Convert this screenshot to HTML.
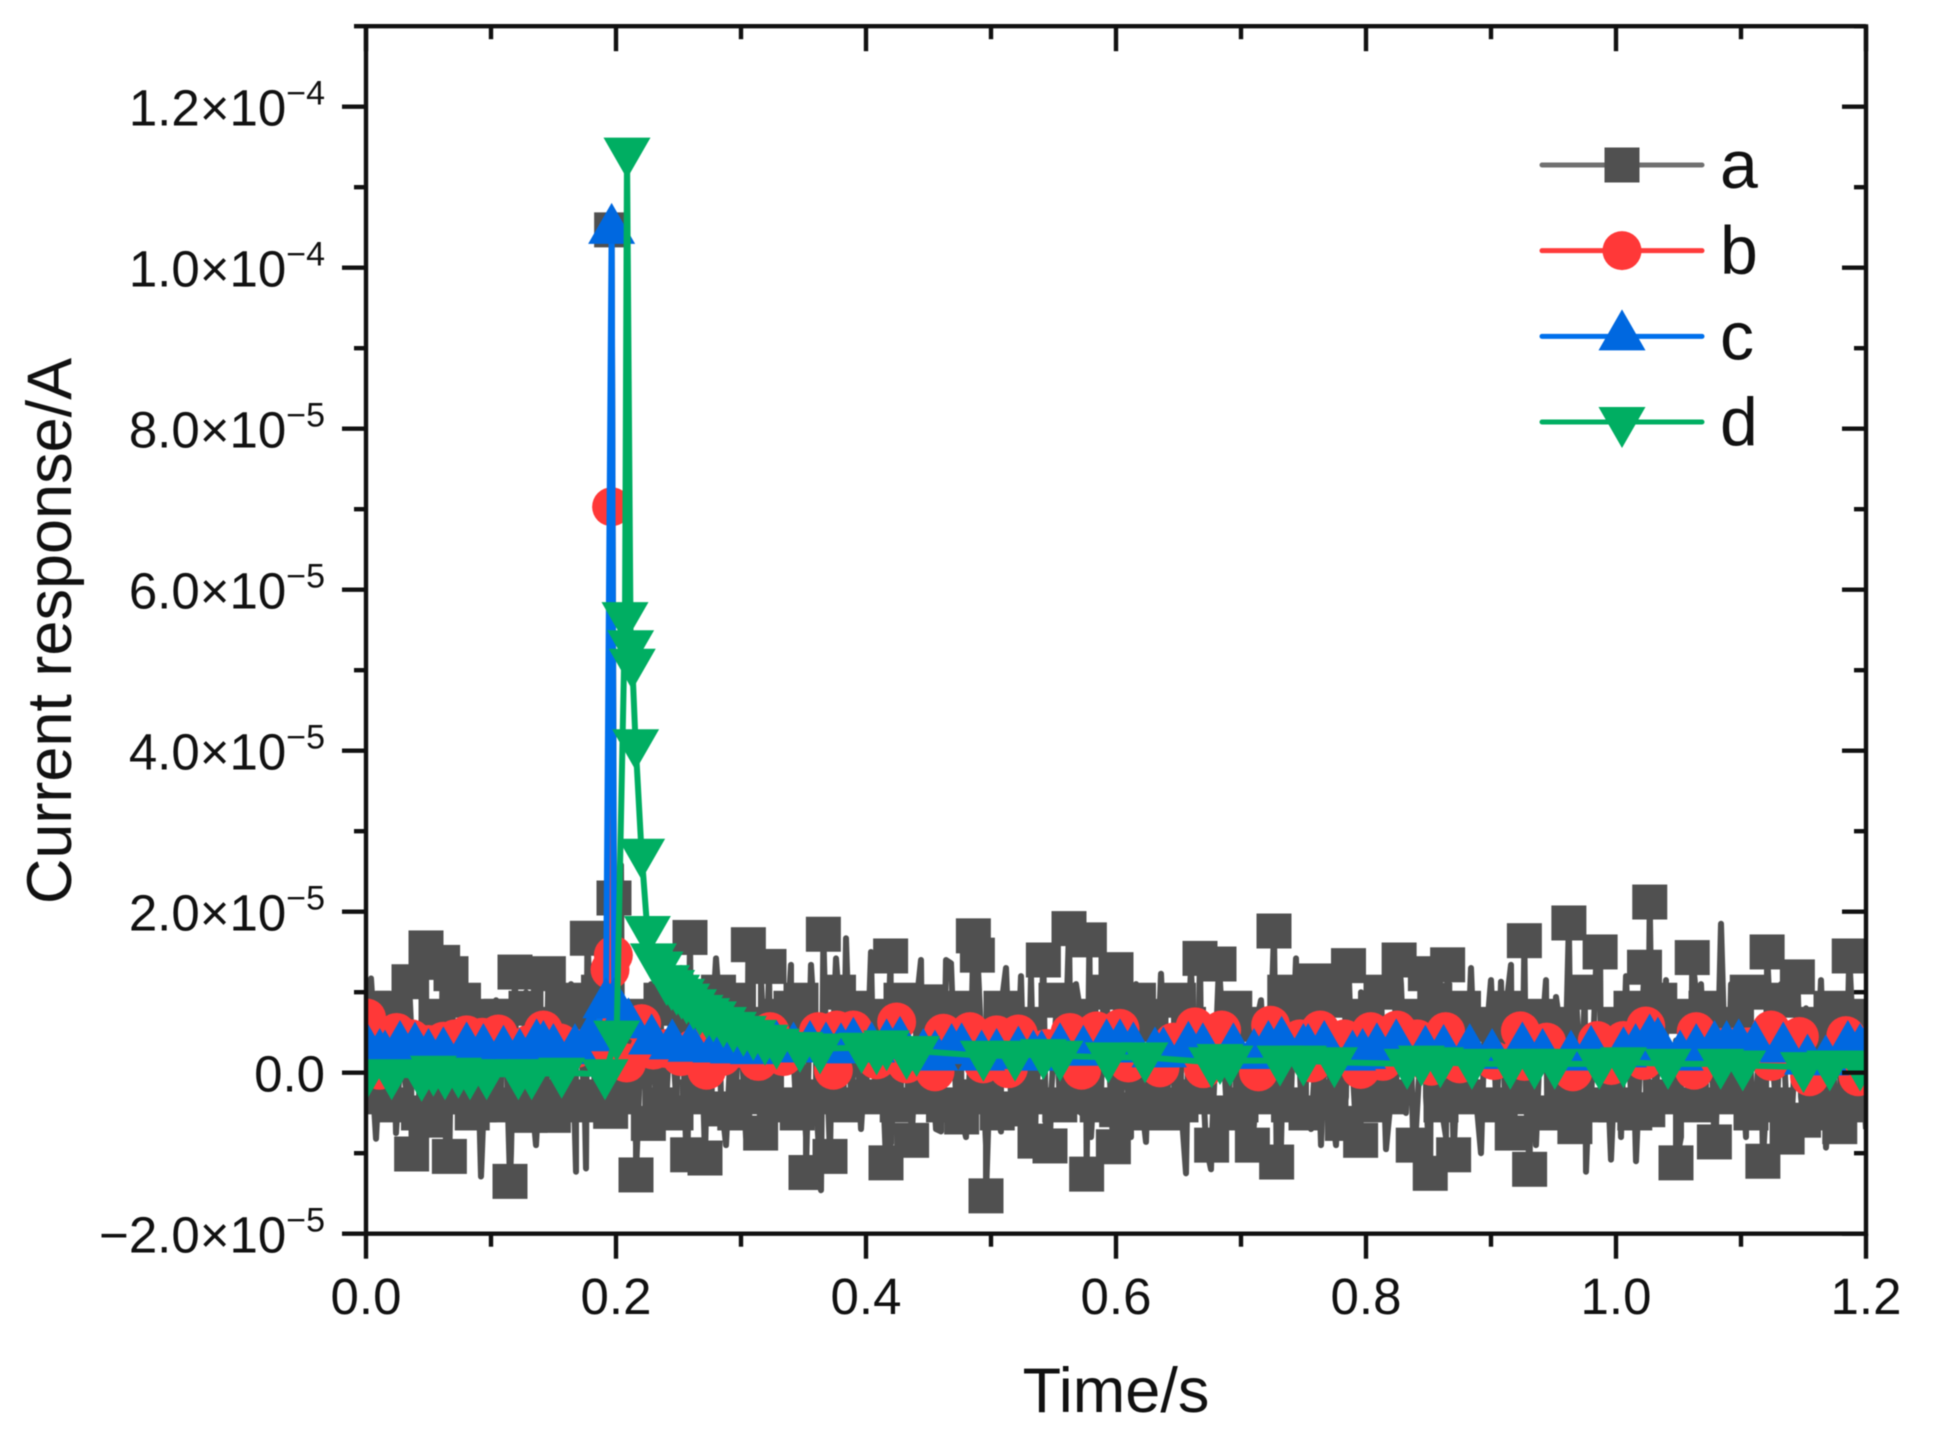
<!DOCTYPE html>
<html lang="en">
<head>
<meta charset="utf-8">
<title>Current response vs time</title>
<style>
html,body{margin:0;padding:0;background:#fff;}
svg{display:block;font-family:"Liberation Sans",Arial,sans-serif;fill:#111;filter:blur(0.6px);}
</style>
</head>
<body>
<svg id="chart" xmlns="http://www.w3.org/2000/svg" width="1934" height="1432" viewBox="0 0 1934 1432">
  <defs><clipPath id="plot-clip"><rect x="366" y="26" width="1500" height="1208"/></clipPath></defs>
  <rect x="0" y="0" width="1934" height="1432" fill="#fff"/>
  <g id="series-layer" clip-path="url(#plot-clip)"></g>
  <g id="axis-layer"></g>
  <text x="1116" y="1412" font-size="63" text-anchor="middle">Time/s</text>
  <text transform="translate(71,631) rotate(-90)" font-size="63" text-anchor="middle">Current response/A</text>
  <g id="legend-layer"></g>
</svg>
<script>
// Axis data (values in microamps on y, seconds on x)
const xMajorTicks = [0, 0.2, 0.4, 0.6, 0.8, 1.0, 1.2];
const xMinorTicks = [0.1, 0.3, 0.5, 0.7, 0.9, 1.1];
const xTickLabels = ["0.0", "0.2", "0.4", "0.6", "0.8", "1.0", "1.2"];
const yMajorTicks = [-20, 0, 20, 40, 60, 80, 100, 120];
const yMinorTicks = [-10, 10, 30, 50, 70, 90, 110, 130];
const yTickLabels = ["\u22122.0\u00d710", "0.0", "2.0\u00d710", "4.0\u00d710", "6.0\u00d710", "8.0\u00d710", "1.0\u00d710", "1.2\u00d710"];
const yTickExponents = ["\u22125", "", "\u22125", "\u22125", "\u22125", "\u22125", "\u22124", "\u22124"];

// Series a: densely sampled noise trace, one reading every 4 ms
const seriesASampleStep = 0.004;
const seriesASamples = [
5,11.7,-8.2,4,-3,9.4,-7.5,3,-2,6,-4,5,-3,8,-5,4,-9,3,-4,7,-3,5,-5,-12.9,3,
-3,9,-4,4,-10,3,-3,10,-2,-9,3,-5,12,-3,4,-4,11,-12.3,3,-11.9,6,-4,10,-3,11,
-3,25.8,-4,5,-9,4,-3,11,-4,3,-4,7,-3,13,-9,4,-3,9,-5,3,14.2,-3,-9,4,-3,
5,-8,4,-3,12,-3,-7.5,4,-5,3,13.4,-4,5,-8,13.4,3,-14.6,4,-3,14.2,-4,16.7,-3,4,-7,
3,15,-4,5,-3,-8.8,4,-3,10,-5,3,14,-3,4,-7,-7.3,14,13.6,-3,4,-8,3,-4,5,-9,
4,-3,-7.3,13,-3,4,12,-4,12,-3,5,-8,-3,7,-4,5,-3,11,-5,4,-8,3,-3,11,-4,
6,-3,4,-8,11,-3,-8.6,5,-3,12.3,-3,4,-5,3,-12.5,13,-3,4,-9,-12,4,9,-3,5,-4,
4,-8,5,-3,9,-4,6,-3,-9,4,-3,14.2,-3,4,-7,3,-9,7,-3,-9,5,-3,4,-7,10,
4,-3,9,-4,-9.5,4,-3,11,-5,3,-7,4,-3,10,-4,3,-8,5,-3,9,-3,13,-3,-10,4,
11.5,-3,11.3,-7,13.4,-4,5,-3,8,-9,3,11.5,-3,9.4,-7.3,4,-5,10,-3,-12.3,4,13,-4,5,-10.8,
4,-8,12,-3,-11,4,-3,10,-4,3,11.5,-3,4,-8,5,-3,10,11,-3,5,-7,18.5,-3,11,-4,
5,-8,9,-3,6,-4,4,-8,11,-3,-7,4,-3,8,-4,4,11.5,-9.3,3,-7,9,-4,10,-3,4,-7
];
// Series a: square marker readings
const seriesAMarkerTimes = [
.0055,.0344,.0365,.048,.0485,.0613,.0667,.068,.0905,.1,.1152,.1192,.1312,.1459,.1499,.1771,.1957,.1965,.1984,
.216,.2259,.2573,.2592,.2712,.285,.3059,.3157,.3224,.34,.352,.3659,.3712,.392,.416,.4197,.4365,.448,.4765,
.4859,.4891,.496,.52,.5352,.5419,.5472,.5624,.5765,.5787,.5979,.6,.6005,.618,.64,.6672,.6765,.6824,.7091,
.7264,.7285,.745,.7602,.7811,.786,.7957,.8265,.8378,.8475,.8514,.8653,.8701,.917,.9267,.9309,.9623,.9671,
.9873,1.0228,1.0254,1.027,1.048,1.061,1.0787,1.1175,1.1209,1.1369,1.1451,1.15,1.179,1.1866,
.012,.022,.056,.078,.09,.108,.128,.14,.158,.168,.186,.21,.236,.248,.268,.282,.298,.312,.332,.348,.378,.405,.428,.44,.462,.475,
.508,.525,.552,.572,.59,.612,.628,.65,.658,.695,.712,.735,.752,.772,.795,.812,.835,.855,.878,.895,.912,.94,.955,.975,
1.002,1.012,1.035,1.052,1.072,1.09,1.105,1.132,1.16,1.172,1.195,
.006,.02,.042,.06,.075,.085,.105,.125,.142,.16,.175,.188,.205,.235,.248,.265,.295,.305,.33,.345,.36,.382,.4,.425,.445,.462,.488,
.505,.53,.555,.568,.585,.61,.625,.652,.665,.69,.7,.72,.738,.752,.772,.805,.82,.86,.88,.905,.925,.945,.958,.98,
1.0,1.015,1.04,1.065,1.09,1.108,1.128,1.16,1.17,1.192
];
const seriesAMarkerValues = [
8,11.3,-10.1,15.5,-5.9,13.7,-10.4,12.3,-4,7,-13.5,12.5,-5.3,12.3,-5.3,16.7,-4.8,104.7,21.7,
-12.7,-6.3,-10.2,16.8,-10.6,-4.5,15.9,-7.5,13.2,8,-12.4,17.2,-10.4,8,-11.2,14.5,-8.4,8.8,-5.5,
17,14.6,-15.3,-4.5,-8.5,14,-9.1,17.9,-12.6,16.5,-9.2,12.8,-4.6,9,-5,14.2,-9,13.5,-9,
17.6,-11.1,8,11.4,-6.3,13.3,-8.4,14,-9,12.3,-12.5,13.4,-10.2,-7.5,16.4,-12,18.6,-6.7,
15,13.1,-4.6,21.2,-11.2,14.3,-8.6,-11,15,-8,11.9,-5.9,-6.7,14.5,
6,8,7,9,6,7,8,6,9,7,10,7,9,8,7,10,9,6,7,9,10,7,9,8,7,8,
8,6,9,7,10,6,7,9,6,8,6,10,7,9,7,10,7,9,8,6,8,7,6,10,
6,8,9,7,8,6,10,9,6,8,7,
-3,-4,-5,-3,-3,-5,-4,-3,-5,-3,-4,-3,-3,-4,-5,-3,-5,-3,-4,-5,-3,-4,-3,-4,-3,-4,-3,
-5,-3,-4,-3,-4,-5,-3,-4,-3,-5,-4,-3,-4,-5,-3,-4,-3,-4,-3,-4,-3,-5,-3,-4,
-4,-5,-3,-4,-3,-5,-4,-4,-5,-4
];

// Series b
const seriesBTimes = [
.0005,.0107,.0125,.0245,.0365,.05,.0619,.0712,.0805,.093,.1059,.118,.13,.1419,.155,.168,.18,.19,.1952,.1965,.1979,
.2085,.2205,.2299,.24,.252,.262,.2725,.285,.3,.3139,.3232,.3339,.3619,.3739,.3765,.3899,.4085,.4245,.4325,.4552,
.4619,.4832,.4939,.5045,.5139,.5219,.5445,.5632,.5725,.5845,.6032,.6099,.6352,.6459,.6632,.6699,.6845,.714,.7237,
.7472,.7569,.7634,.7828,.7957,.8038,.8135,.8248,.841,.8523,.8637,.875,.9025,.9235,.9268,.9445,.9656,.985,.9963,
1.006,1.0222,1.0238,1.0626,1.0642,1.124,1.1241,1.1467,1.1548,1.1839,1.1937,1.2
];
const seriesBValues = [
6.8,.3,4.6,5,4.2,3.5,3.9,4.2,4.7,4.4,4.8,2.5,3.5,5.3,3.7,3,3.2,4,12.8,70.3,14.6,
1.2,6.1,2.8,3,2,3,.3,2,3,1.4,5.1,2,5.1,.3,5.3,5.3,1.6,6.3,1.1,.1,
4.9,5.1,1.1,4.7,.5,4.8,3,5,.3,5.2,5.5,1.2,.6,3.8,5.7,.5,5.3,.1,5.9,
4.2,1.2,5.3,4.2,.4,5.1,1.4,5.3,4.2,.8,5.1,1.1,1.5,5.2,1.4,3.8,.1,4,.9,
4,1.5,5.8,.3,5.1,5.3,1.4,4.5,-.5,4.6,-.5,3
];

// Series c
const seriesCTimes = [
.0005,.011,.0152,.0272,.0392,.05,.0619,.0805,.0939,.11,.123,.1365,.1419,.1499,.1672,.18,.192,.1965,.1985,.205,.21,.2285,
.245,.26,.28,.2939,.31,.3285,.342,.3552,.368,.38,.3899,.4045,.4165,.4272,.4459,.4552,.4685,.4765,.4925,.5045,.5219,.5339,
.5405,.5552,.5739,.5925,.6032,.6139,.6312,.6379,.6579,.6695,.6939,.7104,.7219,.7325,.7499,.7537,.7666,.7893,.7973,.8087,
.8242,.8475,.8621,.883,.9009,.9251,.9413,.964,.98,1.006,1.0157,1.027,1.0335,1.0513,1.0642,1.0788,1.0885,1.0982,1.1112,
1.1338,1.1532,1.1678,1.1855,1.1953,1.2
];
const seriesCValues = [
3,2.2,2,3.2,3,2.2,2.4,3,2.8,2.6,2.2,3.4,3.2,2.8,2.8,4.4,8.5,104.7,8.5,6.8,6,4,
3.4,3.1,3,2.9,2.8,3.2,3,3.2,3,2.9,3.6,3,3.4,3.7,2.2,2,2.8,2.9,2,2.2,2.5,2,
2,2.9,2.6,3.4,3.4,3,2.4,2.4,3.1,2.9,2.9,2.2,3.2,3.7,2.8,2.8,3.2,2,2.2,2.9,
3.4,2.6,2.7,2.8,2.2,3,2.2,2,2.6,2.4,2.8,4,3.6,2,2.8,3.2,3.2,3.4,3.2,
3,1.5,1.4,3.2,2.8,2.8
];

// Series d
const seriesDTimes = [
0,.0205,.0445,.0539,.0632,.0739,.0832,.0965,.1219,.1325,.1565,.1912,.2005,.2072,.2088,.2117,.213,.2157,.2205,.2251,.2299,
.2352,.2405,.2445,.2485,.2525,.2565,.262,.2672,.2725,.2779,.2859,.2939,.3019,.3099,.3192,.3285,.3472,.3632,.3965,.4085,.4165,.4325,.4405,
.4939,.5192,.5419,.5552,.5939,.6232,.6765,.6832,.6912,.7312,.7499,.7747,.8329,.8443,.8595,.8847,.9154,.9348,.951,.9866,1.006,
1.0416,1.0837,1.1014,1.15,1.171,1.1953
];
const seriesDValues = [
-.3,-.2,-.4,.25,-.2,0,-.2,-.2,-.2,-.2,0,-.2,4.6,56.6,114.3,53.1,50.8,40.8,27.2,17.6,14.2,
13.2,11.5,10.9,10.3,9.8,9.2,8.5,7.8,7.4,7,6.3,5.7,5.2,4.7,4.1,3.6,3.2,3,3.1,2.9,3.4,2.3,2.7,
2.1,2.1,2.3,2.1,1.9,1.9,1.3,1.7,1.5,1.5,1.5,1.3,1.1,1.5,1.3,1.1,1.1,1.1,1.1,1.1,1.3,
1.1,1.1,.9,.7,.9,.9
];

// Legend entries
const legendLabels = ["a", "b", "c", "d"];

const SVG_NS = "http://www.w3.org/2000/svg";
const xDomain = [0, 1.2];
const xRange = [366, 1866];
const yDomain = [-20, 130];
const yRange = [1233.7, 26.2];
function xScale(t) { return xRange[0] + (t - xDomain[0]) / (xDomain[1] - xDomain[0]) * (xRange[1] - xRange[0]); }
function yScale(v) { return yRange[0] + (v - yDomain[0]) / (yDomain[1] - yDomain[0]) * (yRange[1] - yRange[0]); }
function make(tag, attrs, parent) {
  const el = document.createElementNS(SVG_NS, tag);
  for (const k in attrs) el.setAttribute(k, attrs[k]);
  parent.appendChild(el);
  return el;
}
const axisLayer = document.getElementById("axis-layer");
const seriesLayer = document.getElementById("series-layer");
const legendLayer = document.getElementById("legend-layer");
const AXIS = "#111111";

function axisLine(x1, y1, x2, y2, name) {
  const el = make("line", {x1: x1, y1: y1, x2: x2, y2: y2, stroke: AXIS, "stroke-width": 4.4}, axisLayer);
  
  
}
const plotLeft = xRange[0], plotRight = xRange[1], plotBottom = yRange[0], plotTop = yRange[1];
axisLine(plotLeft, plotTop - 2, plotLeft, plotBottom + 2, "y-axis-line");
axisLine(plotRight, plotTop - 2, plotRight, plotBottom + 2, "right-axis-line");
axisLine(plotLeft, plotBottom, plotRight, plotBottom, "x-axis-line");
axisLine(plotLeft, plotTop, plotRight, plotTop, "top-axis-line");

xMajorTicks.forEach(function (t, i) {
  const x = xScale(t);
  axisLine(x, plotBottom, x, plotBottom + 25, "x-major-tick");
  axisLine(x, plotTop, x, plotTop + 25, "top-major-tick");
  const label = make("text", {x: x, y: 1314, "font-size": 51, "text-anchor": "middle"}, axisLayer);
  
  
  label.textContent = xTickLabels[i];
});
xMinorTicks.forEach(function (t) {
  const x = xScale(t);
  axisLine(x, plotBottom, x, plotBottom + 13, "x-minor-tick");
  axisLine(x, plotTop, x, plotTop + 13, "top-minor-tick");
});
yMajorTicks.forEach(function (v, i) {
  const y = yScale(v);
  axisLine(plotLeft, y, plotLeft - 24, y, "y-major-tick");
  axisLine(plotRight, y, plotRight - 24, y, "right-major-tick");
  const label = make("text", {x: 325, y: y + 19, "font-size": 51, "text-anchor": "end"}, axisLayer);
  
  
  const mantissa = make("tspan", {}, label);
  mantissa.textContent = yTickLabels[i];
  if (yTickExponents[i]) {
    const exponent = make("tspan", {dy: -21, "font-size": 34}, label);
    exponent.textContent = yTickExponents[i];
  }
});
yMinorTicks.forEach(function (v) {
  const y = yScale(v);
  axisLine(plotLeft, y, plotLeft - 12, y, "y-minor-tick");
  axisLine(plotRight, y, plotRight - 12, y, "right-minor-tick");
});

function markerNode(kind, cx, cy, color, parent) {
  if (kind === "square") return make("rect", {x: cx - 17.5, y: cy - 17.5, width: 35, height: 35, fill: color}, parent);
  if (kind === "circle") return make("circle", {cx: cx, cy: cy, r: 19.5, fill: color}, parent);
  if (kind === "up") return make("polygon", {points: cx + "," + (cy - 27) + " " + (cx + 23.5) + "," + (cy + 14) + " " + (cx - 23.5) + "," + (cy + 14), fill: color}, parent);
  return make("polygon", {points: (cx - 23.5) + "," + (cy - 15) + " " + (cx + 23.5) + "," + (cy - 15) + " " + cx + "," + (cy + 26), fill: color}, parent);
}

function drawSeries(name, lineTimes, lineValues, markerTimes, markerValues, kind, lineColor, markerColor) {
  const group = make("g", {}, seriesLayer);
  
  
  let d = "";
  lineTimes.forEach(function (t, i) {
    d += (i ? "L" : "M") + xScale(t).toFixed(2) + " " + yScale(lineValues[i]).toFixed(2);
  });
  const path = make("path", {d: d, fill: "none", stroke: lineColor, "stroke-width": 6, "stroke-linejoin": "round"}, group);
  
  
  markerTimes.forEach(function (t, i) {
    const m = markerNode(kind, xScale(t), yScale(markerValues[i]), markerColor, group);
    
    
  });
}

// Merge series a's dense samples and marker readings in time order for its line
const seriesAPoints = seriesASamples.map(function (v, i) { return [i * seriesASampleStep, v]; })
  .concat(seriesAMarkerTimes.map(function (t, i) { return [t, seriesAMarkerValues[i]]; }))
  .sort(function (p, q) { return p[0] - q[0]; });

const seriesStyles = [
  {line: "#505050", marker: "#505050", kind: "square"},
  {line: "#ff3b3b", marker: "#ff3838", kind: "circle"},
  {line: "#0070ec", marker: "#0068e0", kind: "up"},
  {line: "#00ae62", marker: "#00ae62", kind: "down"}
];
drawSeries("series-a", seriesAPoints.map(function (p) { return p[0]; }), seriesAPoints.map(function (p) { return p[1]; }), seriesAMarkerTimes, seriesAMarkerValues, seriesStyles[0].kind, seriesStyles[0].line, seriesStyles[0].marker);
drawSeries("series-b", seriesBTimes, seriesBValues, seriesBTimes, seriesBValues, seriesStyles[1].kind, seriesStyles[1].line, seriesStyles[1].marker);
drawSeries("series-c", seriesCTimes, seriesCValues, seriesCTimes, seriesCValues, seriesStyles[2].kind, seriesStyles[2].line, seriesStyles[2].marker);
drawSeries("series-d", seriesDTimes, seriesDValues, seriesDTimes, seriesDValues, seriesStyles[3].kind, seriesStyles[3].line, seriesStyles[3].marker);

legendLabels.forEach(function (text, i) {
  const y = 165 + i * 85.67;
  const entry = make("g", {}, legendLayer);
  
  
  const style = seriesStyles[i];
  const line = make("line", {x1: 1542, y1: y, x2: 1702, y2: y, stroke: i === 0 ? "#707070" : style.line, "stroke-width": 5, "stroke-linecap": "round"}, entry);
  
  
  const marker = markerNode(style.kind, 1622, y, style.marker, entry);
  
  
  const label = make("text", {x: 1720, y: y + 23, "font-size": 68}, entry);
  
  
  label.textContent = text;
});
</script>
</body>
</html>
